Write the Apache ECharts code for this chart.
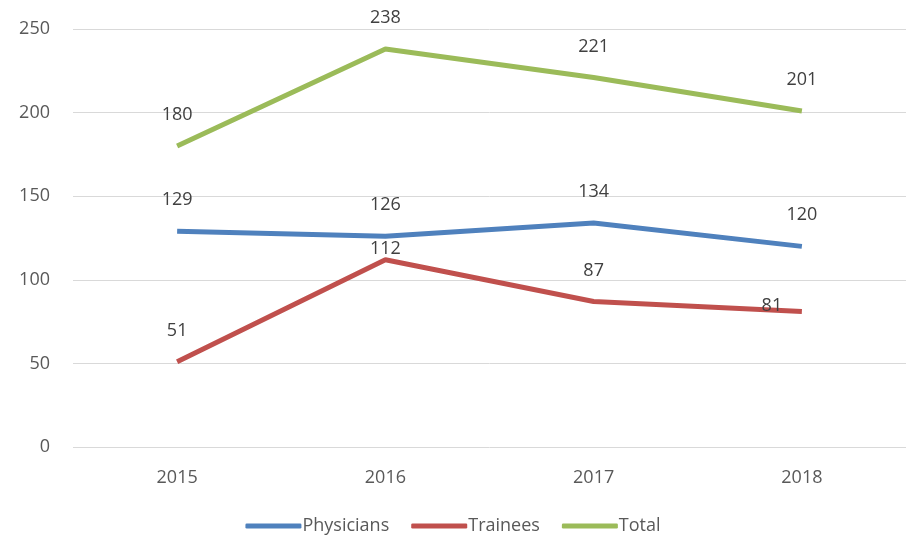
<!DOCTYPE html>
<html>
<head>
<meta charset="utf-8">
<script src="https://cdn.jsdelivr.net/npm/echarts@6/dist/echarts.min.js"></script>
<style>
  html, body { margin: 0; padding: 0; background: #ffffff; }
  #chart { width: 906px; height: 542px; }
</style>
</head>
<body>
<div id="chart"></div>
<script>
const years = ['2015', '2016', '2017', '2018'];
const physicians = [129, 126, 134, 120];
const trainees = [51, 112, 87, 81];
const total = [180, 238, 221, 201];

const chart = echarts.init(document.getElementById('chart'));

const labelStyle = {
  show: true,
  position: 'top',
  distance: 22,
  color: '#404040',
  fontSize: 18,
  fontFamily: 'Open Sans'
};

function lineSeries(name, data, color, tweaks) {
  return {
    name: name,
    type: 'line',
    data: data.map(function (v, i) {
      const item = {value: v};
      if (tweaks && tweaks[i]) item.label = tweaks[i];
      return item;
    }),
    symbol: 'circle',
    symbolSize: 0,
    showSymbol: true,
    smooth: false,
    lineStyle: {color: color, width: 5},
    itemStyle: {color: color},
    label: labelStyle
  };
}

const option = {
  animation: false,
  grid: {left: 73, top: 29, right: -4, bottom: 95},
  xAxis: {
    type: 'category',
    data: years,
    axisLine: {show: false},
    axisTick: {show: false},
    axisLabel: {color: '#595959', fontSize: 18, fontFamily: 'Open Sans', margin: 22}
  },
  yAxis: {
    type: 'value',
    min: 0,
    max: 250,
    interval: 50,
    axisLine: {show: false},
    axisTick: {show: false},
    splitLine: {lineStyle: {color: '#d9d9d9', width: 1}},
    axisLabel: {color: '#595959', fontSize: 18, fontFamily: 'Open Sans', margin: 23}
  },
  legend: {
    bottom: 2,
    left: 'center',
    itemWidth: 56,
    itemHeight: 5,
    itemGap: 22,
    icon: 'roundRect',
    textStyle: {color: '#595959', fontSize: 18, fontFamily: 'Open Sans', padding: [0, 0, 0, -4]},
    data: ['Physicians', 'Trainees', 'Total']
  },
  series: [
    lineSeries('Physicians', physicians, '#4f81bd'),
    lineSeries('Trainees', trainees, '#c0504d', {
      1: {distance: 2},
      3: {distance: -3, offset: [-30, 0]}
    }),
    lineSeries('Total', total, '#9bbb59')
  ]
};

chart.setOption(option);
</script>
</body>
</html>
